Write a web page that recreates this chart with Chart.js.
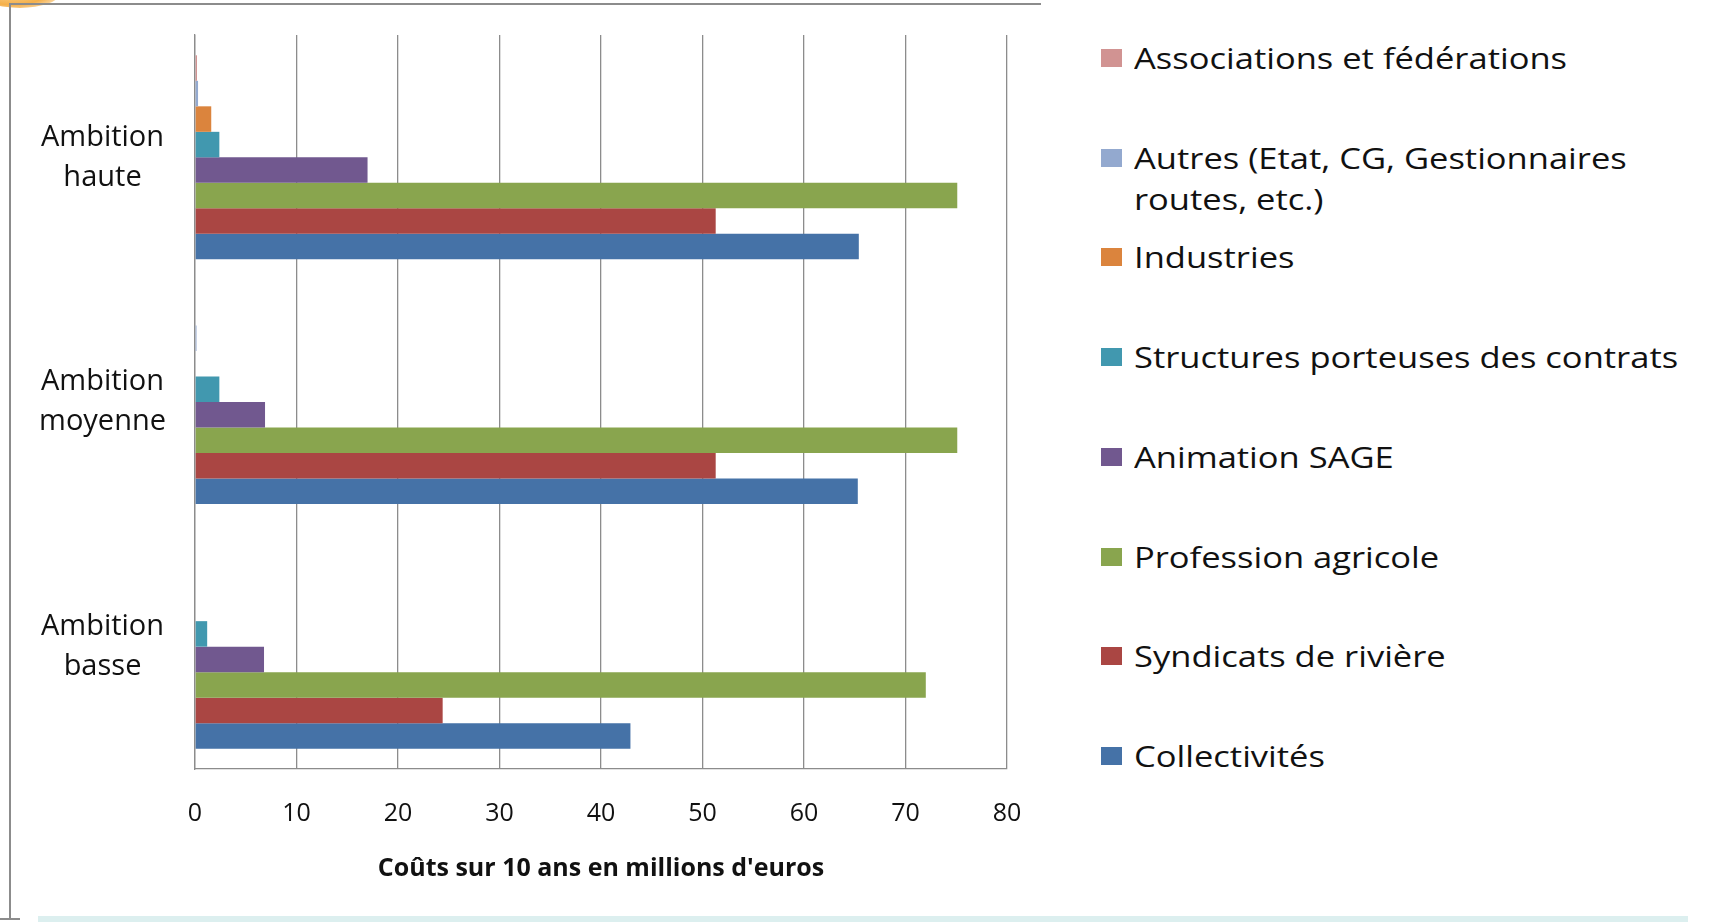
<!DOCTYPE html>
<html lang="fr">
<head>
<meta charset="utf-8">
<script src="https://cdn.jsdelivr.net/npm/chart.js@4.4.1/dist/chart.umd.min.js"></script>
<style>
  body { margin: 0; width: 1710px; height: 922px; position: relative; background: #fff; overflow: hidden; }
  .frame-top { position: absolute; left: 9px; top: 3px; width: 1032px; height: 2px; background: #8c8c8c; }
  .frame-left { position: absolute; left: 9px; top: 3px; width: 2px; height: 916px; background: #8c8c8c; }
  .frame-foot { position: absolute; left: 0; top: 918px; width: 20px; height: 2px; background: #8c8c8c; }
  .strip { position: absolute; left: 38px; top: 916px; width: 1650px; height: 6px; background: #dcefef; }
  .blob { position: absolute; left: -20px; top: -22px; width: 80px; height: 30px; border-radius: 50%;
          background: radial-gradient(ellipse at 40% 30%, #fde2b0 0%, #f5b04a 60%, rgba(245,176,74,0) 100%); }
  #wrap { position: absolute; left: 0; top: 0; width: 1040px; height: 922px; }
  #legend { position: absolute; left: 1101px; top: 0; font-family: 'Open Sans', sans-serif; font-size: 29px; color: #111; }
  .item { position: absolute; left: 0; display: flex; align-items: flex-start; }
  .sw { width: 21px; height: 18px; margin-top: 12px; margin-right: 12px; flex: none; }
  .txt { line-height: 41.6px; width: 480px; transform: scaleX(1.19); transform-origin: left top; }
</style>
</head>
<body>
<div class="blob"></div>
<div class="frame-top"></div>
<div class="frame-left"></div>
<div class="frame-foot"></div>
<div class="strip"></div>
<div id="wrap"><canvas id="chart" width="1040" height="922"></canvas></div>
<div id="legend"></div>
<script>
const categories = [['Ambition', 'haute'], ['Ambition', 'moyenne'], ['Ambition', 'basse']];
const seriesNames = [
  'Associations et fédérations',
  'Autres (Etat, CG, Gestionnaires routes, etc.)',
  'Industries',
  'Structures porteuses des contrats',
  'Animation SAGE',
  'Profession agricole',
  'Syndicats de rivière',
  'Collectivités'
];
const seriesColors = ['#d19392', '#93a9cf', '#db843d', '#4198af', '#71588f', '#89a54e', '#aa4643', '#4572a7'];

const associations = [0.2, 0, 0];
const autres = [0.3, 0.15, 0];
const industries = [1.6, 0, 0];
const structures = [2.4, 2.4, 1.2];
const animation = [17.0, 6.9, 6.8];
const profession = [75.1, 75.1, 72.0];
const syndicats = [51.3, 51.3, 24.4];
const collectivites = [65.4, 65.3, 42.9];
const seriesValues = [associations, autres, industries, structures, animation, profession, syndicats, collectivites];

const xTicks = [0, 10, 20, 30, 40, 50, 60, 70, 80];
const xTitle = "Coûts sur 10 ans en millions d'euros";

const gridColor = '#8c8c8c';
const narrow = "'Liberation Sans Narrow', 'Open Sans', sans-serif";

const datasets = seriesNames.map((name, i) => ({
  label: name,
  data: seriesValues[i],
  backgroundColor: seriesColors[i],
  borderWidth: 0,
  barPercentage: 1,
  categoryPercentage: 0.834
}));

const ctx = document.getElementById('chart').getContext('2d');
new Chart(ctx, {
  type: 'bar',
  data: { labels: categories, datasets },
  options: {
    indexAxis: 'y',
    responsive: false,
    animation: false,
    layout: { padding: { top: 35, right: 33, bottom: 0, left: 0 } },
    scales: {
      x: {
        min: xTicks[0],
        max: xTicks[xTicks.length - 1],
        afterBuildTicks: axis => { axis.ticks = xTicks.map(v => ({ value: v })); },
        afterFit: axis => {
          axis.height = 153;
          axis.paddingLeft = 0;
          axis.paddingRight = 0;
        },
        grid: { color: gridColor, lineWidth: 1.3, drawTicks: false },
        border: { color: gridColor, width: 1.3 },
        ticks: { color: '#111', padding: 30, font: { family: narrow, size: 25 } },
        title: {
          display: true,
          text: xTitle,
          color: '#111',
          font: { family: narrow, size: 25, weight: 'bold' },
          padding: { top: 0, bottom: 38 }
        }
      },
      y: {
        afterFit: axis => {
          axis.width = 195;
          axis.paddingTop = 0;
          axis.paddingBottom = 0;
        },
        grid: { display: false },
        border: { color: gridColor, width: 1.3 },
        ticks: {
          color: '#111',
          crossAlign: 'center',
          padding: 21,
          font: { family: "'Open Sans', sans-serif", size: 29, lineHeight: 1.38 }
        }
      }
    },
    plugins: {
      legend: { display: false },
      tooltip: { enabled: false }
    }
  }
});

const legend = document.getElementById('legend');
legend.innerHTML = seriesNames.map((name, i) =>
  `<div class="item" style="top:${37 + i * 99.7}px">
     <span class="sw" style="background:${seriesColors[i]}"></span>
     <span class="txt">${name}</span>
   </div>`
).join('');
</script>
</body>
</html>
